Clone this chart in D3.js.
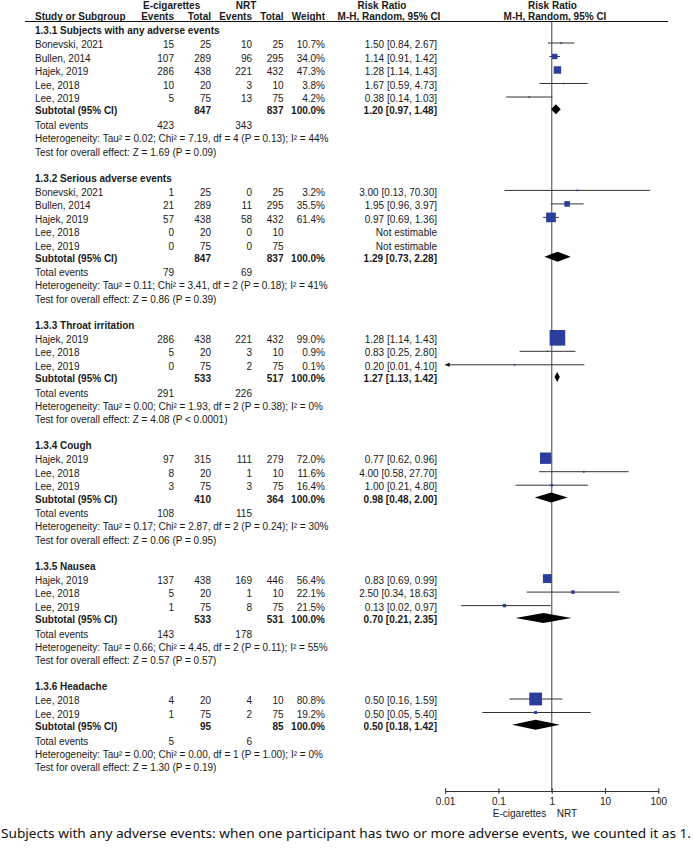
<!DOCTYPE html>
<html>
<head>
<meta charset="utf-8">
<script src="https://cdn.jsdelivr.net/npm/d3@7/dist/d3.min.js"></script>
<style>
  html, body { margin: 0; padding: 0; background: #fff; }
  svg { display: block; }
  text { font-family: "Liberation Sans", Arial, sans-serif; fill: #1a1a1a; }
</style>
</head>
<body>
<div id="chart"></div>
<script>
// ---------------- DATA ----------------
const sectionTitles = [
  "1.3.1 Subjects with any adverse events",
  "1.3.2 Serious adverse events",
  "1.3.3 Throat irritation",
  "1.3.4 Cough",
  "1.3.5 Nausea",
  "1.3.6 Headache"
];
const studyNames = [
  ["Bonevski, 2021", "Bullen, 2014", "Hajek, 2019", "Lee, 2018", "Lee, 2019"],
  ["Bonevski, 2021", "Bullen, 2014", "Hajek, 2019", "Lee, 2018", "Lee, 2019"],
  ["Hajek, 2019", "Lee, 2018", "Lee, 2019"],
  ["Hajek, 2019", "Lee, 2018", "Lee, 2019"],
  ["Hajek, 2019", "Lee, 2018", "Lee, 2019"],
  ["Lee, 2018", "Lee, 2019"]
];
const ecigEvents = [[15, 107, 286, 10, 5], [1, 21, 57, 0, 0], [286, 5, 0], [97, 8, 3], [137, 5, 1], [4, 1]];
const ecigTotals = [[25, 289, 438, 20, 75], [25, 289, 438, 20, 75], [438, 20, 75], [315, 20, 75], [438, 20, 75], [20, 75]];
const nrtEvents  = [[10, 96, 221, 3, 13], [0, 11, 58, 0, 0], [221, 3, 2], [111, 1, 3], [169, 1, 8], [4, 2]];
const nrtTotals  = [[25, 295, 432, 10, 75], [25, 295, 432, 10, 75], [432, 10, 75], [279, 10, 75], [446, 10, 75], [10, 75]];
const weights    = [[10.7, 34.0, 47.3, 3.8, 4.2], [3.2, 35.5, 61.4, null, null], [99.0, 0.9, 0.1], [72.0, 11.6, 16.4], [56.4, 22.1, 21.5], [80.8, 19.2]];
const riskRatios = [[1.50, 1.14, 1.28, 1.67, 0.38], [3.00, 1.95, 0.97, null, null], [1.28, 0.83, 0.20], [0.77, 4.00, 1.00], [0.83, 2.50, 0.13], [0.50, 0.50]];
const ciLower    = [[0.84, 0.91, 1.14, 0.59, 0.14], [0.13, 0.96, 0.69, null, null], [1.14, 0.25, 0.01], [0.62, 0.58, 0.21], [0.69, 0.34, 0.02], [0.16, 0.05]];
const ciUpper    = [[2.67, 1.42, 1.43, 4.73, 1.03], [70.30, 3.97, 1.36, null, null], [1.43, 2.80, 4.10], [0.96, 27.70, 4.80], [0.99, 18.63, 0.97], [1.59, 5.40]];

const subtotalEcigN = [847, 847, 533, 410, 533, 95];
const subtotalNrtN  = [837, 837, 517, 364, 531, 85];
const subtotalRR    = [1.20, 1.29, 1.27, 0.98, 0.70, 0.50];
const subtotalLower = [0.97, 0.73, 1.13, 0.48, 0.21, 0.18];
const subtotalUpper = [1.48, 2.28, 1.42, 2.00, 2.35, 1.42];
const totalEventsEcig = [423, 79, 291, 108, 143, 5];
const totalEventsNrt  = [343, 69, 226, 115, 178, 6];
const heterogeneity = [
  "Heterogeneity: Tau² = 0.02; Chi² = 7.19, df = 4 (P = 0.13); I² = 44%",
  "Heterogeneity: Tau² = 0.11; Chi² = 3.41, df = 2 (P = 0.18); I² = 41%",
  "Heterogeneity: Tau² = 0.00; Chi² = 1.93, df = 2 (P = 0.38); I² = 0%",
  "Heterogeneity: Tau² = 0.17; Chi² = 2.87, df = 2 (P = 0.24); I² = 30%",
  "Heterogeneity: Tau² = 0.66; Chi² = 4.45, df = 2 (P = 0.11); I² = 55%",
  "Heterogeneity: Tau² = 0.00; Chi² = 0.00, df = 1 (P = 1.00); I² = 0%"
];
const overallEffect = [
  "Test for overall effect: Z = 1.69 (P = 0.09)",
  "Test for overall effect: Z = 0.86 (P = 0.39)",
  "Test for overall effect: Z = 4.08 (P < 0.0001)",
  "Test for overall effect: Z = 0.06 (P = 0.95)",
  "Test for overall effect: Z = 0.57 (P = 0.57)",
  "Test for overall effect: Z = 1.30 (P = 0.19)"
];
const axisTicks = [0.01, 0.1, 1, 10, 100];
const axisTickLabels = ["0.01", "0.1", "1", "10", "100"];
const favourLeft = "E-cigarettes";
const favourRight = "NRT";
const caption = "Subjects with any adverse events: when one participant has two or more adverse events, we counted it as 1.";

// ---------------- LAYOUT ----------------
const W = 694, H = 853;
const FS = 10;
const col = { name: 35, ee: 174, et: 211, ne: 252, nt: 283.5, w: 325, rr: 437 };
const axisY = 791;

const svg = d3.select("#chart").append("svg").attr("width", W).attr("height", H);

const x = d3.scaleLog().domain([0.01, 100]).range([445.1, 658.3]);

const fmt2 = d3.format(".2f");
const fmtW = d3.format(".1f");
const rrText = (r, l, u) => r == null ? "Not estimable" : `${fmt2(r)} [${fmt2(l)}, ${fmt2(u)}]`;

function txt(g, xPos, yCenter, s, opts = {}) {
  return g.append("text")
    .attr("x", xPos).attr("y", yCenter + 3.6)
    .attr("text-anchor", opts.anchor || "start")
    .attr("font-size", opts.size || FS)
    .attr("font-weight", opts.bold ? "bold" : "normal")
    .text(s);
}

const tg = svg.append("g");      // table text
const lineG = svg.append("g");   // reference line
const markG = svg.append("g");   // marks

// Header
txt(tg, 143, 5, "E-cigarettes", { bold: true });
txt(tg, 246, 5, "NRT", { bold: true, anchor: "middle" });
txt(tg, 382, 5, "Risk Ratio", { bold: true, anchor: "middle" });
txt(tg, 552.5, 5, "Risk Ratio", { bold: true, anchor: "middle" });
txt(tg, col.name, 16.5, "Study or Subgroup", { bold: true });
txt(tg, col.ee, 16.5, "Events", { bold: true, anchor: "end" });
txt(tg, col.et, 16.5, "Total", { bold: true, anchor: "end" });
txt(tg, col.ne, 16.5, "Events", { bold: true, anchor: "end" });
txt(tg, col.nt, 16.5, "Total", { bold: true, anchor: "end" });
txt(tg, col.w, 16.5, "Weight", { bold: true, anchor: "end" });
txt(tg, 389, 16.5, "M-H, Random, 95% CI", { bold: true, anchor: "middle" });
txt(tg, 555, 16.5, "M-H, Random, 95% CI", { bold: true, anchor: "middle" });
svg.append("line").attr("x1", 25).attr("x2", 668).attr("y1", 21.5).attr("y2", 21.5)
  .attr("stroke", "#111").attr("stroke-width", 1.2);

// Reference line at RR = 1
lineG.append("line").attr("x1", x(1)).attr("x2", x(1)).attr("y1", 22).attr("y2", axisY)
  .attr("stroke", "#7a7a7a").attr("stroke-width", 1.4);

const squareColor = "#2c3e9c";
const markOffset = -1.5;

let y = 30.5;
sectionTitles.forEach((title, s) => {
  txt(tg, col.name, y, title, { bold: true });
  let ry = y + 14;
  studyNames[s].forEach((name, i) => {
    const rowY = ry + 13.5 * i;
    txt(tg, col.name, rowY, name);
    txt(tg, col.ee, rowY, ecigEvents[s][i], { anchor: "end" });
    txt(tg, col.et, rowY, ecigTotals[s][i], { anchor: "end" });
    txt(tg, col.ne, rowY, nrtEvents[s][i], { anchor: "end" });
    txt(tg, col.nt, rowY, nrtTotals[s][i], { anchor: "end" });
    if (weights[s][i] != null) txt(tg, col.w, rowY, fmtW(weights[s][i]) + "%", { anchor: "end" });
    txt(tg, col.rr, rowY, rrText(riskRatios[s][i], ciLower[s][i], ciUpper[s][i]), { anchor: "end" });

    if (riskRatios[s][i] != null) {
      const my = rowY + markOffset;
      const lo = Math.max(ciLower[s][i], 0.01), hi = Math.min(ciUpper[s][i], 100);
      const x1 = x(lo), x2 = x(hi);
      markG.append("line").attr("x1", x1).attr("x2", x2).attr("y1", my).attr("y2", my)
        .attr("stroke", "#333").attr("stroke-width", 1);
      if (ciLower[s][i] <= 0.01) {
        markG.append("path")
          .attr("d", `M${x1},${my} l4.5,-2.2 l0,4.4 Z`).attr("fill", "#111");
      }
      const side = Math.max(1.6, 0.158 * weights[s][i]);
      markG.append("rect")
        .attr("x", x(riskRatios[s][i]) - side / 2).attr("y", my - side / 2)
        .attr("width", side).attr("height", side)
        .attr("fill", squareColor);
    }
  });
  const last = ry + 13.5 * (studyNames[s].length - 1);
  const subY = last + 12.3;
  txt(tg, col.name, subY, "Subtotal (95% CI)", { bold: true });
  txt(tg, col.et, subY, subtotalEcigN[s], { bold: true, anchor: "end" });
  txt(tg, col.nt, subY, subtotalNrtN[s], { bold: true, anchor: "end" });
  txt(tg, col.w, subY, "100.0%", { bold: true, anchor: "end" });
  txt(tg, col.rr, subY, rrText(subtotalRR[s], subtotalLower[s], subtotalUpper[s]), { bold: true, anchor: "end" });
  const dy = subY + markOffset;
  markG.append("path")
    .attr("d", `M${x(subtotalLower[s])},${dy} L${x(subtotalRR[s])},${dy - 5} L${x(subtotalUpper[s])},${dy} L${x(subtotalRR[s])},${dy + 5} Z`)
    .attr("fill", "#000");

  const totY = subY + 14.6;
  txt(tg, col.name, totY, "Total events");
  txt(tg, col.ee, totY, totalEventsEcig[s], { anchor: "end" });
  txt(tg, col.ne, totY, totalEventsNrt[s], { anchor: "end" });
  const hetY = totY + 13;
  txt(tg, col.name, hetY, heterogeneity[s]);
  const testY = hetY + 13.5;
  txt(tg, col.name, testY, overallEffect[s]);
  y = testY + 26;
});

// Axis
const axis = d3.axisBottom(x).tickValues(axisTicks)
  .tickFormat((d, i) => axisTickLabels[i]).tickSizeOuter(0).tickSizeInner(2.5);
const ag = svg.append("g").attr("transform", `translate(0,${axisY})`).call(axis);
ag.select(".domain").attr("stroke", "#333").attr("stroke-width", 1.1);
ag.selectAll(".tick line").attr("y1", -2.8).attr("y2", 2.8).attr("stroke", "#333").attr("stroke-width", 1.1);
ag.selectAll(".tick text").attr("y", 13.5).attr("dy", null)
  .attr("font-size", FS).attr("font-family", "Liberation Sans, Arial, sans-serif").attr("fill", "#1a1a1a");
txt(svg, x(1) - 5.5, 813.3, favourLeft, { anchor: "end" });
txt(svg, x(1) + 5, 813.3, favourRight);

// Caption
svg.append("text").attr("x", 1).attr("y", 838)
  .attr("font-size", 12.6)
  .attr("textLength", 690).attr("lengthAdjust", "spacingAndGlyphs")
  .style("font-family", "'Noto Sans', 'Open Sans', sans-serif")
  .style("fill", "#111")
  .text(caption);
</script>
</body>
</html>
